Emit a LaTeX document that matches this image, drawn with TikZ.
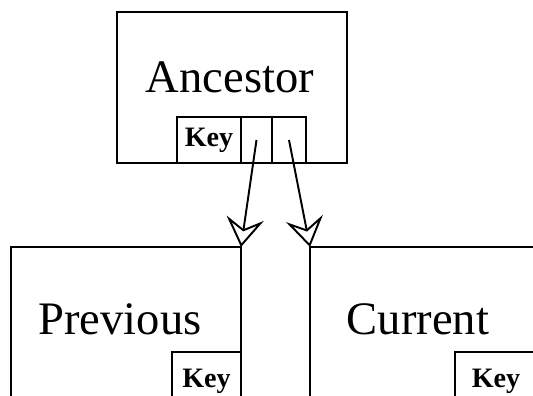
\documentclass[tikz,border=0pt]{standalone}
\usepackage{fontspec}
\setmainfont{Liberation Serif}
\usetikzlibrary{positioning, calc, arrows.meta}

\begin{document}
\begin{tikzpicture}[line width=1.1pt,
  every node/.style={anchor=center, align=center, inner sep=0pt, outer sep=0pt},
  box/.style={draw, minimum width=4.6cm},
  cell/.style={draw, minimum height=0.92cm, font=\fontsize{16}{18}\selectfont\bfseries},
  title/.style={font=\fontsize{26.5}{30}\selectfont, anchor=base},
  ptr/.style={-{Stealth[open, length=0.58cm, width=0.75cm, inset=0.22cm]}}]
  \useasboundingbox (0,0) rectangle (10.66,7.92);
  \clip (0,0) rectangle (10.66,7.92);

  % ancestor record with its key and two pointer slots
  \node[box, minimum height=3.02cm] (A) at (4.64,6.17) {};
  \node[cell, minimum width=1.28cm, anchor=south west] (AK) at ( $(A.south west) + (1.2,0)$ ) {Key};
  \node[cell, minimum width=0.62cm, right=0pt of AK] (AL) {};
  \node[cell, minimum width=0.68cm, right=0pt of AL] (AR) {};
  \node[title] (AT) at (4.6,6.06) {Ancestor};

  % the two child records
  \node[box, minimum height=3.5cm, anchor=north west] (P) at (0.22,2.98) {};
  \node[box, minimum height=3.5cm, anchor=north west] (C) at (6.2,2.98) {};
  \node[cell, minimum width=1.38cm, minimum height=1.16cm, anchor=north east] (PK) at ( $(P.north east) + (0,-2.1)$ ) {Key};
  \node[cell, minimum width=1.64cm, minimum height=1.16cm, anchor=north west] (CK) at ( $(C.north west) + (2.9,-2.1)$ ) {Key};
  \node[title] (PT) at (2.4,1.22) {Previous};
  \node[title] (CT) at (8.36,1.22) {Current};

  \draw[ptr] (AL.center) -- (P.north east);
  \draw[ptr] (AR.center) -- (C.north west);
\end{tikzpicture}
\end{document}
